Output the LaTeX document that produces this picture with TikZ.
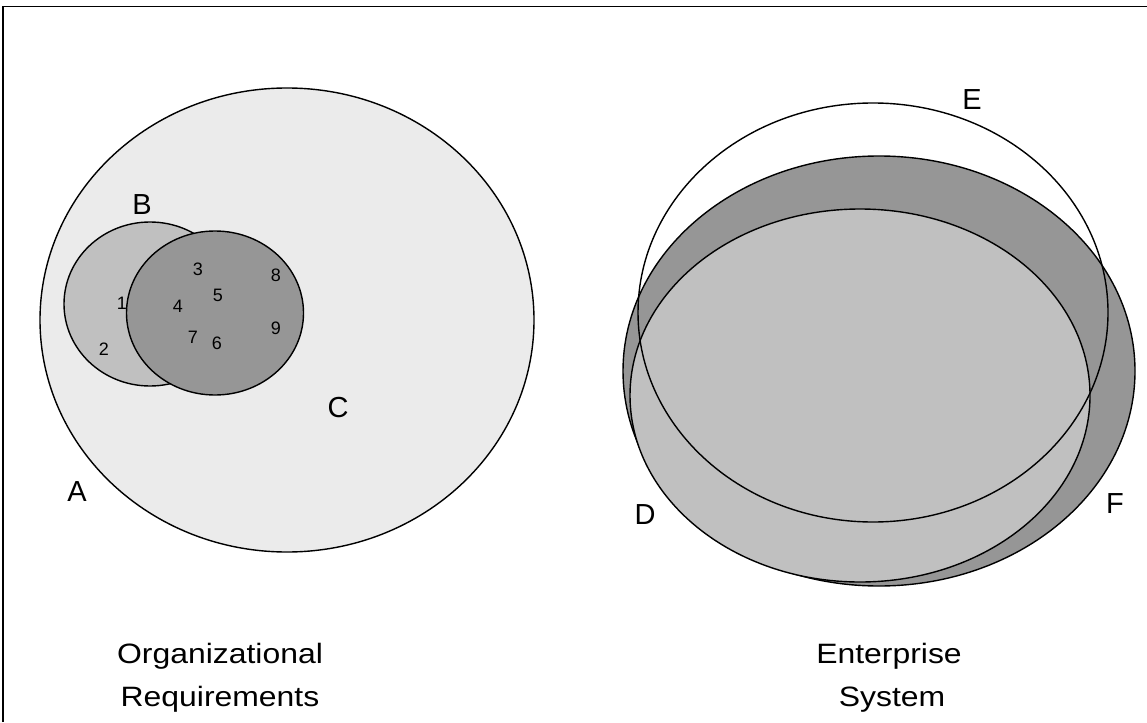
\documentclass[tikz,border=0pt]{standalone}
\usepackage{fontspec}
\setmainfont{Liberation Sans}
\definecolor{paleset}{HTML}{EBEBEB}
\definecolor{midset}{HTML}{C0C0C0}
\definecolor{darkset}{HTML}{969696}
\newcommand{\widecap}[1]{\scalebox{1.14}[1]{#1}}
\begin{document}
\begin{tikzpicture}[x=1pt,y=-1pt,
  setline/.style={draw=black,line width=1.4pt},
  letter/.style={font=\fontsize{29}{29}\selectfont,inner sep=0pt},
  digit/.style={font=\fontsize{18}{18}\selectfont,inner sep=0pt},
  caption/.style={font=\fontsize{28}{28}\selectfont,inner sep=0pt,anchor=base}]
\useasboundingbox (0,0) rectangle (1147,722);
% open frame along the top and left edges
\draw[line width=1.5pt] (3,722) -- (3,6.5) -- (1147,6.5);

% left diagram: sets A, B, C
\filldraw[setline,fill=paleset] (287,320) ellipse [x radius=247,y radius=232];
\filldraw[setline,fill=midset] (150,304) ellipse [x radius=86,y radius=82];
\filldraw[setline,fill=darkset] (215,313) ellipse [x radius=88.5,y radius=82];

\node[letter] (A) at (77,492) {A};
\node[letter] (B) at (142,205) {B};
\node[letter] (C) at (338,408) {C};

\node[digit] (n1) at (122,303) {1};
\node[digit] (n2) at (104,349) {2};
\node[digit] (n3) at (198,269) {3};
\node[digit] (n4) at (178,306) {4};
\node[digit] (n5) at (218,295) {5};
\node[digit] (n6) at (217,343) {6};
\node[digit] (n7) at (193,337) {7};
\node[digit] (n8) at (276,275) {8};
\node[digit] (n9) at (276,328) {9};

% right diagram: sets D, E, F
\filldraw[setline,fill=darkset] (879,371) ellipse [x radius=256,y radius=215];
\filldraw[setline,fill=midset] (860,395.5) ellipse [x radius=230,y radius=186.5];
\draw[setline] (873,312.5) ellipse [x radius=235,y radius=209.5];

\node[letter] (D) at (645,515) {D};
\node[letter] (E) at (972,100) {E};
\node[letter] (F) at (1115,504) {F};

% captions
\node[caption] (org) at (220,663) {\widecap{Organizational}};
\node[caption] (req) at (220,706) {\widecap{Requirements}};
\node[caption] (ent) at (889,663) {\widecap{Enterprise}};
\node[caption] (sys) at (892,706) {\widecap{System}};
\end{tikzpicture}
\end{document}
